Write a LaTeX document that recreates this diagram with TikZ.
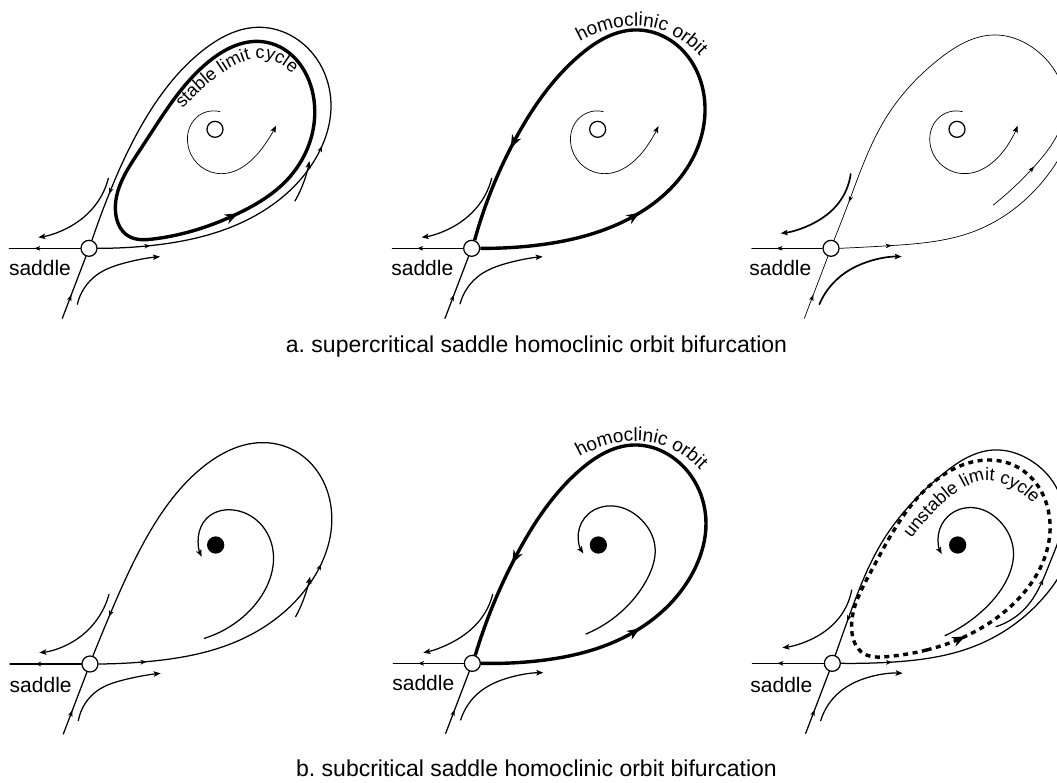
\documentclass[tikz,border=0pt]{standalone}
\usepackage{fontspec}
\setmainfont{Liberation Sans}
\usepackage{tikz}
\usetikzlibrary{arrows.meta,decorations.markings,decorations.text,hobby}
\newcommand{\curvefont}{\fontsize{18}{18}\selectfont}
\newcommand{\orbitfont}{\fontsize{19}{19}\selectfont}
\tikzset{
  panel/.style={shift={#1},x=0.33333pt,y=-0.33333pt,use Hobby shortcut},
  flow/.style={line width=1.25pt,line cap=round},
  hair/.style={line width=0.7pt,line cap=round},
  heavy/.style={line width=3.4pt},
  head/.style={-{Stealth[length=7pt,width=5.5pt,inset=1.5pt]}},
  tipat/.style={postaction={decorate,decoration={markings,mark=at position #1 with {\arrow{Stealth[length=6pt,width=4.5pt,inset=1.5pt]}}}}},
  bigtip/.style={postaction={decorate,decoration={markings,mark=at position #1 with {\arrow{Stealth[length=13pt,width=10pt,inset=4pt]}}}}},
  saddlept/.style={circle,draw,fill=white,line width=1.25pt,minimum size=16pt,inner sep=0pt},
  focuspt/.style={circle,draw,fill=white,line width=1.25pt,minimum size=16pt,inner sep=0pt},
  sinkpt/.style={circle,draw,fill=black,line width=1.25pt,minimum size=16pt,inner sep=0pt},
  lab/.style={font=\fontsize{21}{21}\selectfont,inner sep=0pt},
  capt/.style={font=\fontsize{23}{23}\selectfont,inner sep=0pt},
}
\begin{document}
\frenchspacing
\begin{tikzpicture}[x=1pt,y=-1pt]
\path[use as bounding box,clip] (0,0) rectangle (1057,783);
% supercritical, before
\begin{scope}[panel={(0,0)}]
\node[saddlept] (sadA) at (267,745) {};
\node[focuspt] (focA) at (645,388) {};
\node[lab] (labA) at (120,805) {saddle};
\coordinate (westA) at (28,745);
\coordinate (southA) at (187,955);
\draw[flow,tipat=0.65] (sadA) -- (westA);
\draw[flow,tipat=0.38] (southA) -- (sadA);
\draw[flow,tipat=0.075,tipat=0.37,tipat=0.93] (sadA.east) .. (440,738) .. (720,670) .. (950,470) .. (993,310) .. (870,105) .. (770,82) .. (610,150) .. (440,350) .. (320,600) .. (sadA.70);
\draw[heavy,bigtip=0.145] ([closed]460,717) .. (715,640) .. (870,530) .. (942,300) .. (800,127) .. (620,190) .. (420,450) .. (347,640) .. (385,708);
\draw[flow,head] (885,603) .. (910,550) .. (928,483);
\draw[flow,head] (325,535) .. (290,610) .. (210,680) .. (115,712);
\draw[flow,head] (232,913) .. (290,825) .. (370,790) .. (480,770);
\draw[hair,head] (660,335) .. (590,352) .. (563,430) .. (650,520) .. (790,440) .. (828,377);
\path[decorate,decoration={text along path,text align=center,text={|\curvefont|stable limit cycle}}] (530,345) .. controls (630,235) and (720,170) .. (790,175) .. controls (830,178) and (870,210) .. (895,240);
\end{scope}
% supercritical, homoclinic orbit
\begin{scope}[panel={(370,0)}]
\node[saddlept] (sadB) at (305,745) {};
\node[focuspt] (focB) at (683,388) {};
\node[lab] (labB) at (157,805) {saddle};
\coordinate (westB) at (67,745);
\coordinate (southB) at (225,955);
\draw[flow,tipat=0.65] (sadB) -- (westB);
\draw[flow,tipat=0.38] (southB) -- (sadB);
\draw[heavy,bigtip=0.24,bigtip=0.856] (sadB.east) .. (480,738) .. (770,660) .. (960,490) .. (1005,320) .. (900,120) .. (790,90) .. (630,165) .. (440,410) .. (sadB.70);
\draw[flow,head] (365,535) .. (330,610) .. (250,680) .. (155,712);
\draw[flow,head] (270,912) .. (330,825) .. (410,790) .. (518,770);
\draw[hair,head] (700,335) .. (630,352) .. (602,430) .. (690,520) .. (830,440) .. (865,378);
\path[decorate,decoration={text along path,text align=center,text={|\orbitfont|homoclinic orbit}}] (590,150) .. controls (670,95) and (740,78) .. (800,78) .. controls (880,78) and (955,120) .. (1020,205);
\end{scope}
% supercritical, after
\begin{scope}[panel={(720,0)}]
\node[saddlept] (sadC) at (333,745) {};
\node[focuspt] (focC) at (711,388) {};
\node[lab] (labC) at (181,805) {saddle};
\coordinate (westC) at (95,745);
\coordinate (southC) at (253,955);
\draw[hair,tipat=0.65] (sadC) -- (westC);
\draw[hair,tipat=0.38] (southC) -- (sadC);
\draw[hair,tipat=0.19] (sadC.east) .. (510,737) .. (760,695) .. (950,565) .. (1050,410);
\draw[hair,tipat=0.11,tipat=0.92] (820,615) .. (945,497) .. (1035,320) .. (960,160) .. (820,105) .. (660,175) .. (500,350) .. (385,610) .. (sadC.70);
\draw[flow,line width=1.7pt,head] (392,522) .. (355,610) .. (280,670) .. (182,700);
\draw[flow,line width=1.7pt,head] (298,913) .. (360,830) .. (430,790) .. (545,770);
\draw[hair,head] (727,335) .. (660,350) .. (630,430) .. (720,520) .. (860,440) .. (893,377);
\end{scope}
% subcritical, before
\begin{scope}[panel={(0,410)}]
\node[saddlept] (sadD) at (270,762) {};
\node[sinkpt] (focD) at (647,405) {};
\node[lab] (labD) at (122,825) {saddle};
\coordinate (westD) at (30,762);
\coordinate (southD) at (190,972);
\draw[flow,tipat=0.65] (sadD) -- (westD);
\draw[flow,tipat=0.38] (southD) -- (sadD);
\draw[flow,tipat=0.068,tipat=0.365,tipat=0.94] (sadD.east) .. (440,755) .. (720,690) .. (930,520) .. (995,310) .. (880,120) .. (780,98) .. (610,170) .. (430,400) .. (325,625) .. (sadD.70);
\draw[flow,head] (887,620) .. (910,570) .. (930,500);
\draw[flow,head] (327,553) .. (290,630) .. (210,700) .. (118,728);
\draw[flow,head] (235,932) .. (295,840) .. (370,810) .. (482,790);
\draw[flow,head] (613,685) .. (730,620) .. (800,530) .. (820,430) .. (780,340) .. (700,300) .. (620,325) .. (595,380) .. (605,440);
\end{scope}
% subcritical, homoclinic orbit
\begin{scope}[panel={(370,410)}]
\node[saddlept] (sadE) at (307,760) {};
\node[sinkpt] (focE) at (685,405) {};
\node[lab] (labE) at (160,820) {saddle};
\coordinate (westE) at (70,760);
\coordinate (southE) at (227,970);
\draw[flow,tipat=0.65] (sadE) -- (westE);
\draw[flow,tipat=0.38] (southE) -- (sadE);
\draw[heavy,bigtip=0.24,bigtip=0.856] (sadE.east) .. (480,755) .. (770,678) .. (975,475) .. (1008,340) .. (905,140) .. (790,105) .. (630,180) .. (445,425) .. (sadE.70);
\draw[flow,head] (368,553) .. (330,630) .. (250,695) .. (160,728);
\draw[flow,head] (272,930) .. (330,845) .. (410,805) .. (520,788);
\draw[flow,head] (648,672) .. (770,590) .. (835,500) .. (855,410) .. (815,330) .. (730,288) .. (655,312) .. (625,370) .. (640,430);
\path[decorate,decoration={text along path,text align=center,text={|\orbitfont|homoclinic orbit}}] (590,165) .. controls (670,110) and (740,93) .. (800,93) .. controls (880,93) and (955,130) .. (1020,215);
\end{scope}
% subcritical, after
\begin{scope}[panel={(720,410)}]
\node[saddlept] (sadF) at (337,760) {};
\node[sinkpt] (focF) at (713,405) {};
\node[lab] (labF) at (184,825) {saddle};
\coordinate (westF) at (97,760);
\coordinate (southF) at (257,970);
\draw[flow,tipat=0.65] (sadF) -- (westF);
\draw[flow,tipat=0.38] (southF) -- (sadF);
\draw[flow,tipat=0.19] (sadF.east) .. (505,757) .. (760,710) .. (950,585) .. (1050,440);
\draw[flow,tipat=0.135,tipat=0.93] (828,650) .. (920,590) .. (993,450) .. (1030,310) .. (930,150) .. (820,120) .. (665,195) .. (490,390) .. (385,625) .. (sadF.70);
\draw[heavy,dash pattern=on 5pt off 4.5pt,bigtip=0.067] ([closed]620,720) .. (860,600) .. (990,340) .. (890,170) .. (810,150) .. (620,235) .. (450,490) .. (395,660) .. (430,730) .. (500,740);
\draw[flow,head] (395,540) .. (360,620) .. (280,685) .. (187,713);
\draw[flow,head] (302,932) .. (360,845) .. (435,805) .. (548,790);
\draw[flow,head] (675,677) .. (790,600) .. (860,510) .. (880,420) .. (845,340) .. (760,293) .. (685,318) .. (655,375) .. (665,432);
\path[decorate,decoration={text along path,text align=center,text={|\curvefont|unstable limit cycle}}] (560,405) .. controls (640,295) and (730,212) .. (800,212) .. controls (860,212) and (915,250) .. (955,300);
\end{scope}
\node[capt] (captA) at (536.5,347) {a. supercritical saddle homoclinic orbit bifurcation};
\node[capt] (captB) at (536.5,768) {b. subcritical saddle homoclinic orbit bifurcation};
\end{tikzpicture}
\end{document}
